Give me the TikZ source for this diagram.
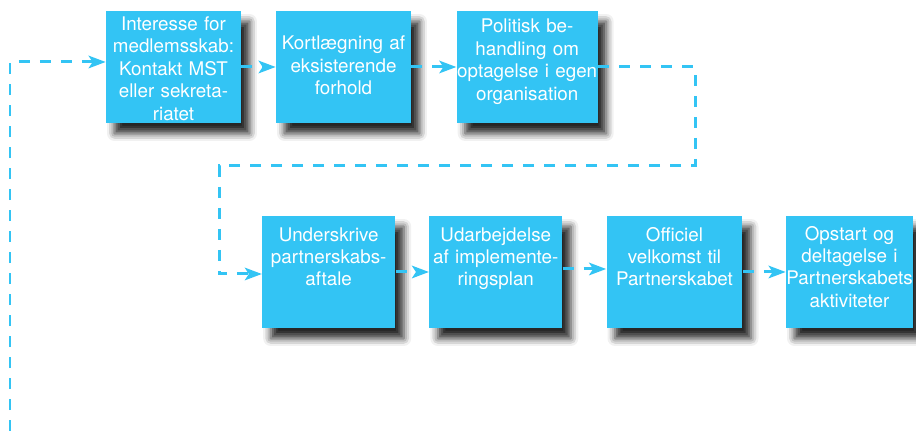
\documentclass[tikz,border=0pt]{standalone}
\usepackage{fontspec}
\setmainfont{TeX Gyre Heros}
\usepackage{tikz}
\usetikzlibrary{calc}
\usetikzlibrary{arrows.meta}
\usetikzlibrary{positioning}
\usetikzlibrary{shadows.blur}
\definecolor{skyblue}{RGB}{51,196,244}
\tikzstyle{stepbox} = [rectangle, fill = skyblue, text = white, inner sep = 0, align = center,
  minimum height = 2.24cm, font = \fontsize{10.7}{12.8}\selectfont,
  blur shadow = {shadow xshift = 0.17cm, shadow yshift = -0.21cm, shadow blur radius = 0.15cm, shadow opacity = 85}]
\tikzstyle{flow} = [-{Stealth[length = 0.34cm, width = 0.25cm, inset = 0.08cm]}, skyblue,
  line width = 0.06cm, dash pattern = on 0.22cm off 0.2cm]

\begin{document}
\begin{tikzpicture}[x = 0.02cm, y = -0.02cm]
\useasboundingbox (0, 0) rectangle (916, 431);
% first row
\node [stepbox, text width = 2.7cm, text height = 0.39cm, text depth = 1.85cm] (b1) at (173.5, 67)
  {Interesse for\\medlemsskab:\\Kontakt MST\\eller sekreta-\\riatet};
\node [stepbox, text width = 2.7cm, text height = 0.78cm, text depth = 1.46cm] (b2) at (343.5, 67)
  {Kortlægning af\\eksisterende\\forhold};
\node [stepbox, text width = 2.82cm, text height = 0.44cm, text depth = 1.8cm] (b3) at (527.2, 67)
  {Politisk be-\\handling om\\optagelse i egen\\organisation};
% second row
\node [stepbox, text width = 2.66cm, text height = 0.5cm, text depth = 1.74cm] (b4) at (328.7, 272)
  {Underskrive\\partnerskabs-\\aftale};
\node [stepbox, text width = 2.66cm, text height = 0.5cm, text depth = 1.74cm] (b5) at (495.8, 272)
  {Udarbejdelse\\af implemente-\\ringsplan};
\node [stepbox, text width = 2.72cm, text height = 0.5cm, text depth = 1.74cm] (b6) at (674.5, 272)
  {Officiel\\velkomst til\\Partnerskabet};
\node [stepbox, text width = 2.54cm, text height = 0.48cm, text depth = 1.76cm] (b7) at (849.5, 272)
  {Opstart og\\deltagelse i\\Partnerskabets\\aktiviteter};
\coordinate (loopstart) at (10, 431);
\coordinate (rturn) at (695, 166);
\coordinate (lturn) at (219, 166);
\draw [flow] (loopstart) |- ($(b1.west)+(0,-5)$);
\draw [flow] (b1) to (b2);
\draw [flow] (b2) to (b3);
\draw [flow] (b3.east) -| (rturn) -- (lturn) |- ($(b4.west)+(0,2)$);
\draw [flow] (b4) to (b5);
\draw [flow] ($(b5.east)+(0,-3)$) to ($(b6.west)+(0,-3)$);
\draw [flow] (b6) to (b7);
\end{tikzpicture}
\end{document}
